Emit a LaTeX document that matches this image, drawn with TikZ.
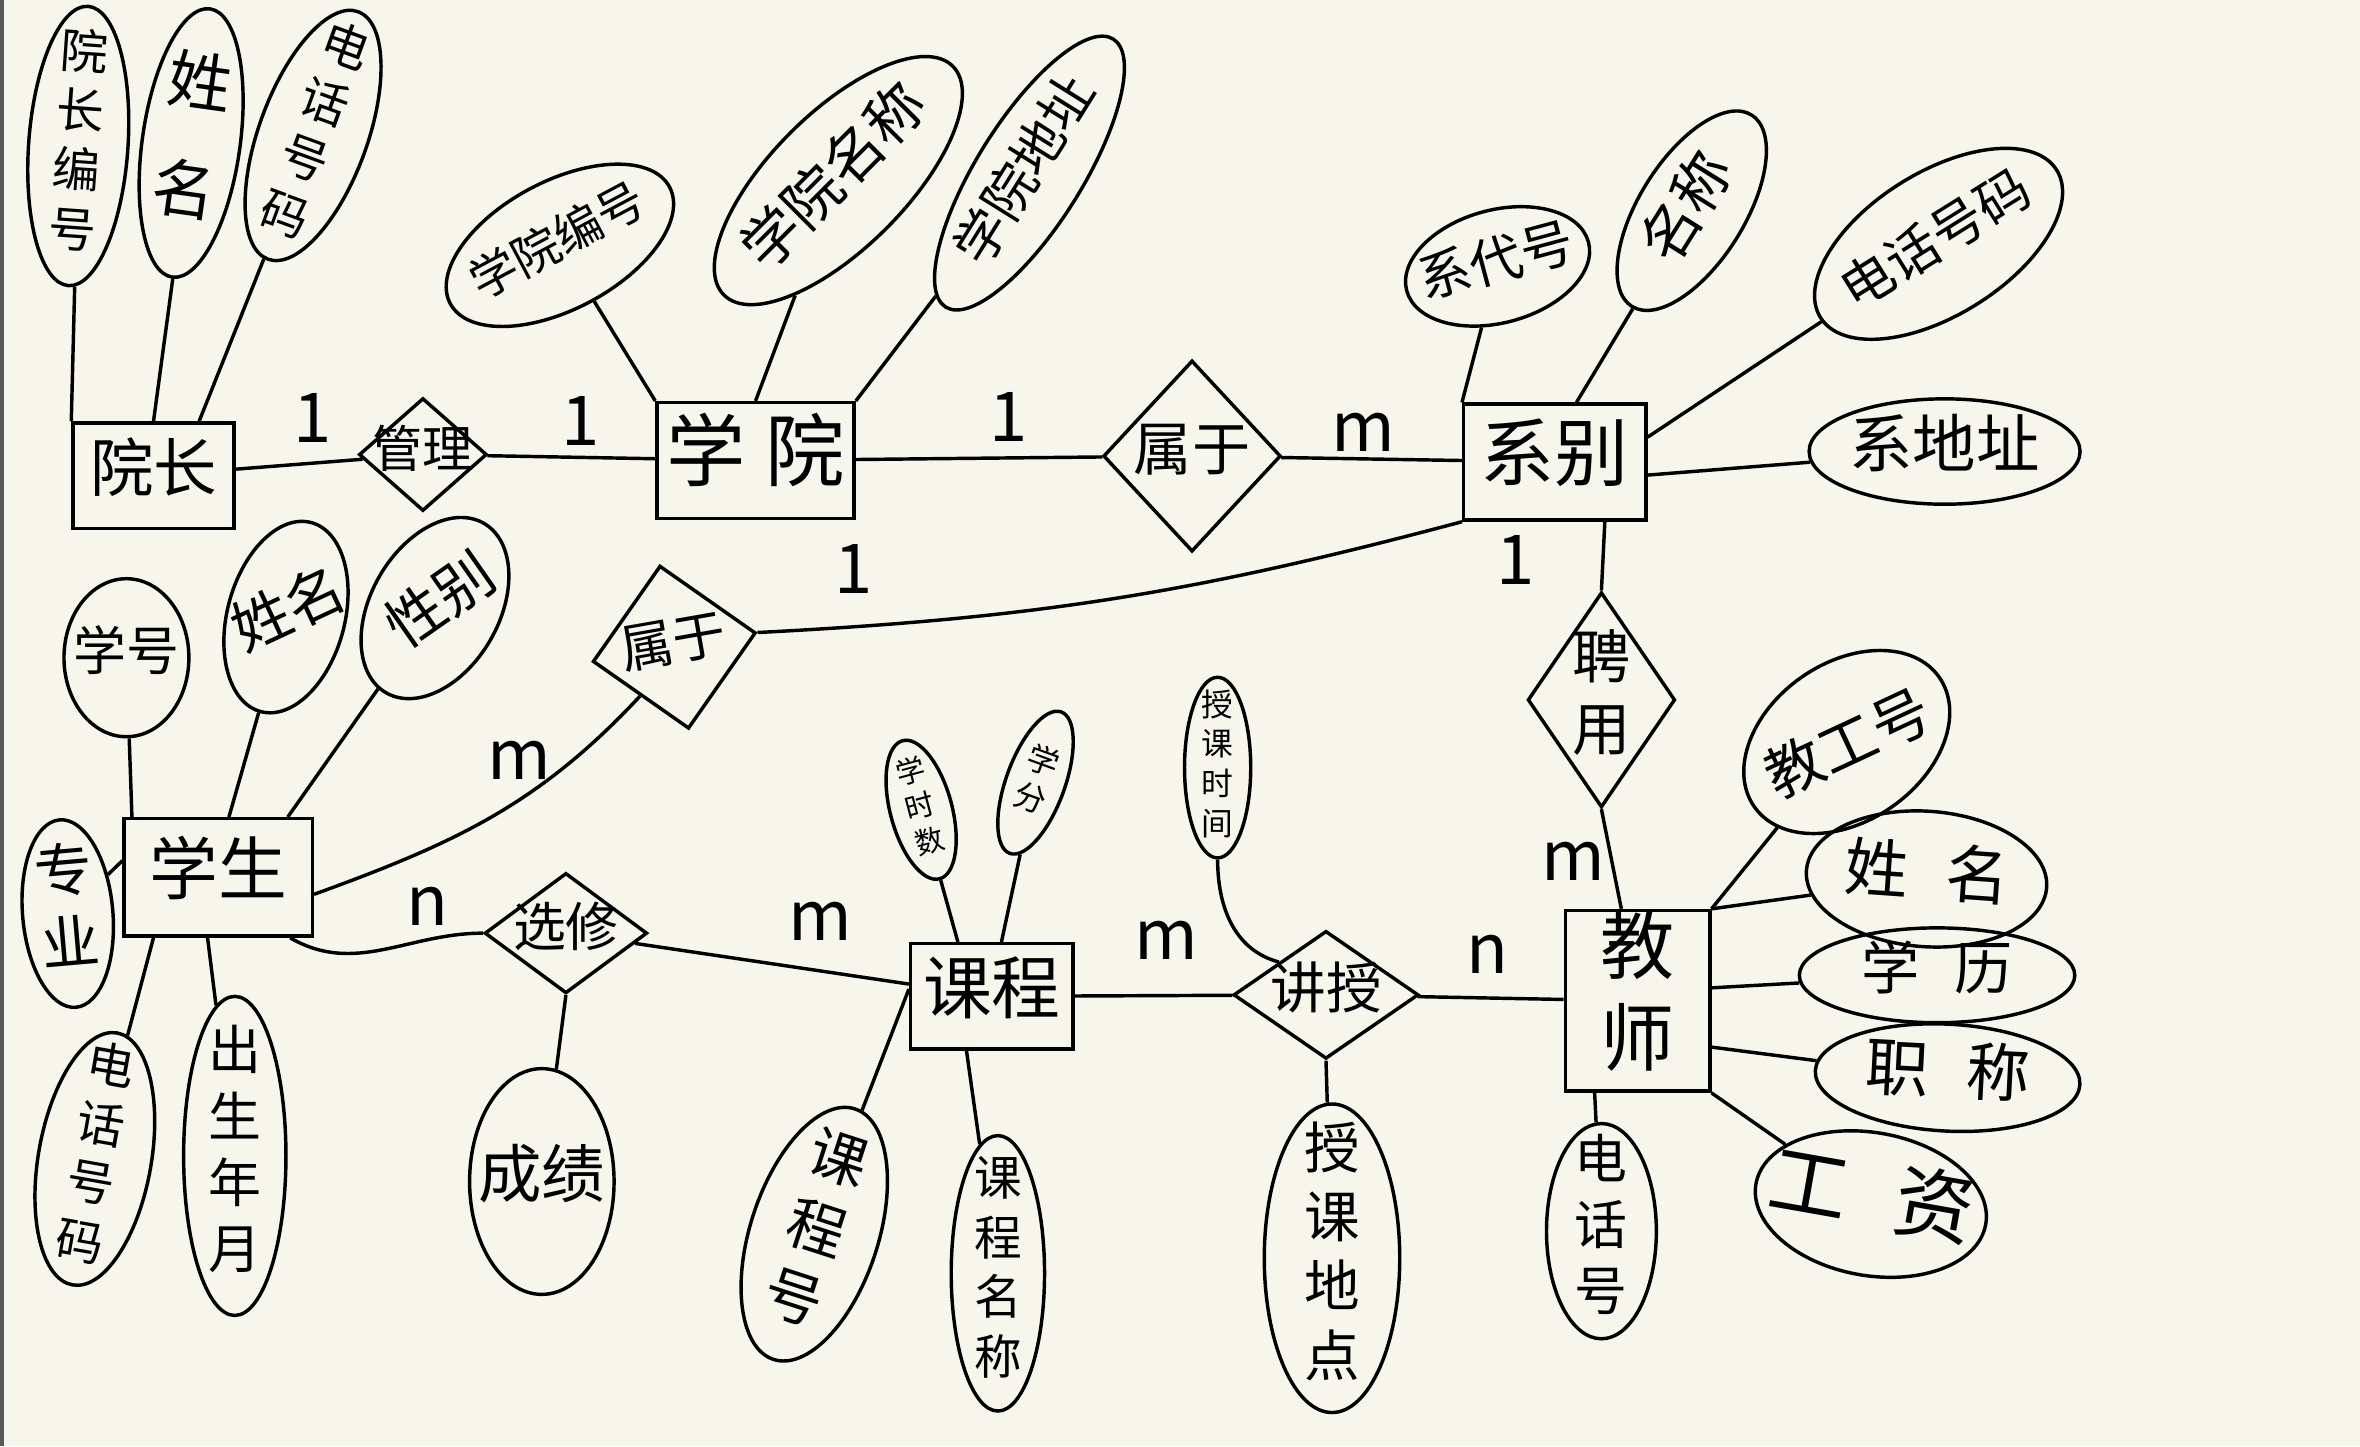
\documentclass[tikz,border=0pt]{standalone}
\usepackage{fontspec}
\usepackage{calc}
\usepackage{graphicx}
\usepackage{tikz}
\usetikzlibrary{shapes.geometric}
\newfontfamily\cjk{Noto Sans CJK SC}
\definecolor{paper}{HTML}{F6F6EC}
\renewcommand{\arraystretch}{1.25}
\newcommand{\lbl}[1]{\makebox[0pt]{\raisebox{-.5\height+.5\depth}[0pt][0pt]{\begin{tabular}[b]{@{}c@{}}#1\end{tabular}}}}

\begin{document}
\begin{tikzpicture}[x=.1mm,y=-.1mm,line width=.65pt,
  ent/.style={draw,rectangle,inner sep=0pt,font=\cjk\fontsize{13}{13}\selectfont},
  rel/.style={draw,diamond,inner sep=0pt,font=\cjk\fontsize{10}{10}\selectfont},
  att/.style={draw,ellipse,inner sep=0pt,font=\cjk\fontsize{10}{10}\selectfont},
  sz/.style 2 args={minimum width=#1mm,minimum height=#2mm},
  fz/.style={font=\cjk\fontsize{#1}{#1}\selectfont},
  card/.style={font=\cjk\fontsize{13}{13}\selectfont}]
  \fill[paper] (0,0) rectangle (1568,961);
  \useasboundingbox (0,0) rectangle (1568,961);
  \fill[black!65] (0,0) rectangle (2.5,961);

  \node[ent,sz={10.7}{7},fz=12] (dean) at (102,316) {\lbl{院长}};
  \node[ent,sz={13.1}{7.7},fz=15] (college) at (502,306) {\lbl{学\hspace{.25em}院}};
  \node[ent,sz={12.1}{7.7},fz=14] (dept) at (1033,307) {\lbl{系别}};
  \node[ent,sz={12.5}{7.8}] (student) at (145,583) {\lbl{学生}};
  \node[ent,sz={10.8}{7}] (course) at (659,662) {\lbl{课程}};
  \node[ent,sz={9.6}{12},fz=14] (teacher) at (1088,665) {\lbl{教\\师}};

  \node[rel,sz={8.5}{7.5},fz=9.5] (manage) at (281,302) {\lbl{管理}};
  \node[rel,sz={11.8}{12.7},fz=11] (belong1) at (792,303) {\lbl{属于}};
  \node[rel,sz={11}{11},rotate=10] (belong2) at (448,430) {\lbl{属于}};
  \node[rel,sz={10.8}{8}] (elect) at (376,620) {\lbl{选修}};
  \node[rel,sz={12.3}{8.5},fz=10.5] (teach) at (881,661) {\lbl{讲授}};
  \node[rel,sz={9.8}{14.3},fz=11] (hire) at (1064,465) {\lbl{聘\\用}};

  \node[att,sz={6.6}{18.6},rotate=-4,fz=9] (deanid) at (52,97) {\lbl{院\\长\\编\\号}};
  \node[att,sz={6.5}{18},rotate=-8,fz=12] (deanname) at (127,95) {\lbl{姓\\[2mm]名}};
  \node[att,sz={7.2}{17.5},rotate=-20,fz=9] (deantel) at (208,90) {\lbl{电\\话\\号\\码}};
  \node[att,sz={16.5}{8.5},rotate=28,fz=9] (cid) at (372,163) {\lbl{学院编号}};
  \node[att,sz={21.5}{9},rotate=45,fz=11] (cname) at (557,120) {\lbl{学院名称}};
  \node[att,sz={21}{7},rotate=58] (caddr) at (684,115) {\lbl{学院地址}};
  \node[att,sz={12.5}{7.5},rotate=15] (did) at (995,177) {\lbl{系代号}};
  \node[att,sz={15}{7},rotate=58,fz=11] (dname) at (1124,140) {\lbl{名称}};
  \node[att,sz={18.5}{9.5},rotate=32] (dtel) at (1288,162) {\lbl{电话号码}};
  \node[att,sz={18}{7},fz=12] (daddr) at (1292,300) {\lbl{系地址}};
  \node[att,sz={8.3}{10.5}] (sid) at (84,437) {\lbl{学号}};
  \node[att,sz={7.8}{13},rotate=-15,fz=11] (sname) at (190,410) {\lbl{\rotatebox{40}{姓名}}};
  \node[att,sz={8.5}{13},rotate=-30,fz=11] (ssex) at (289,404) {\lbl{\rotatebox{65}{性别}}};
  \node[att,sz={6}{12.5},rotate=5,fz=11] (smajor) at (45,607) {\lbl{专\\业}};
  \node[att,sz={7.5}{17},rotate=-10,fz=9] (stel) at (63,770) {\lbl{电\\话\\号\\码}};
  \node[att,sz={6.8}{21.2}] (sbirth) at (156,768) {\lbl{出\\生\\年\\月}};
  \node[att,sz={9.6}{15},fz=12] (score) at (360,785) {\lbl{成绩}};
  \node[att,sz={4.1}{9.5},rotate=15,fz=5.5] (chours) at (612,538) {\lbl{学\\时\\数}};
  \node[att,sz={3.9}{10},rotate=-20,fz=6] (credit) at (688,520) {\lbl{学\\分}};
  \node[att,sz={8.5}{17.5},rotate=-18,fz=11] (coid) at (541,820) {\lbl{课\\程\\号}};
  \node[att,sz={6.2}{18.3},fz=9] (coname) at (663,846) {\lbl{课\\程\\名\\称}};
  \node[att,sz={4.4}{12},fz=6] (ttime) at (809,510) {\lbl{授\\课\\时\\间}};
  \node[att,sz={9}{20.5},fz=10.5] (tplace) at (885,836) {\lbl{授\\课\\地\\点}};
  \node[att,sz={15}{10.5},rotate=35,fz=11] (tid) at (1227,493) {\lbl{\rotatebox{-10}{教工号}}};
  \node[att,sz={16}{9},rotate=-4,fz=12] (tname) at (1280,584) {\lbl{姓\hspace{.6em}名}};
  \node[att,sz={18.3}{6.3},fz=11] (tedu) at (1287,648) {\lbl{学\hspace{.6em}历}};
  \node[att,sz={17.6}{7.1},rotate=-3,fz=12] (ttitle) at (1294,716) {\lbl{职\hspace{.6em}称}};
  \node[att,sz={15.5}{9.5},rotate=-10,fz=15] (tsalary) at (1243,800) {\lbl{工\hspace{.6em}资}};
  \node[att,sz={7.3}{14.3}] (ttel) at (1064,818) {\lbl{电\\话\\号}};

  \foreach \t/\p [count=\i] in {1/{208,278},1/{386,280},1/{670,277},m/{906,287},
      1/{567,378},1/{1007,372},m/{345,505},n/{284,602},m/{545,612},m/{775,625},
      n/{988,634},m/{1045,572}}
    \node[card] (k\i) at (\p) {\t};

  \foreach \a/\b in {deanid/dean.north west,deanname/dean.north,deantel/dean.50,
      dean/manage,manage/college,
      cid/college.north west,cname/college.north,caddr/college.north east,
      college/belong1,belong1/dept,
      did/dept.north west,dname/dept.70,dtel/dept.15,daddr/dept.-8,
      sid/student.145,sname/student.80,ssex/student.41,smajor/student.170,
      stel/student.223,sbirth/student.260,
      score/elect.south,elect/course,
      chours/course.122,credit/course.80,coid/course.175,coname/course.-115,
      course/teach,tplace/teach.south,teach/teacher,
      tid/teacher.north east,tname/teacher.north east,tedu/teacher.10,
      ttitle/teacher.-32,tsalary/teacher.south east,ttel/teacher.-115}
    \draw (\a) -- (\b);

  \draw (belong2.east) to[bend right=6] (dept.south west);
  \draw (dept.-50) -- (hire.north);
  \draw (hire.south) -- (teacher.100);
  \draw (student.-10) to[out=20,in=227] (belong2.south west);
  \draw (student.-40) to[out=-30,in=180] (elect.west);
  \draw (ttime.south) to[out=-90,in=165] (teach.north west);
\end{tikzpicture}
\end{document}
